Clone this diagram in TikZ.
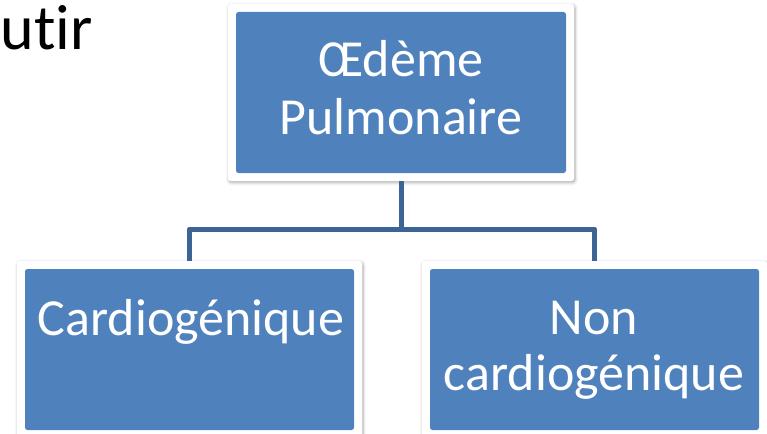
\documentclass[tikz,border=0pt]{standalone}
\usepackage{fontspec}
\setmainfont{Carlito}[Ligatures=NoCommon]
\usetikzlibrary{shadows.blur}
\definecolor{boxblue}{HTML}{4F81BD}
\definecolor{connblue}{HTML}{3C6595}
\tikzset{
  frame/.style={fill=white, rounded corners=2.5pt, inner sep=0pt,
    minimum width=345pt, minimum height=177pt,
    blur shadow={shadow xshift=1pt, shadow yshift=-1.5pt, shadow blur radius=3pt, shadow opacity=35},
    path picture={\fill[boxblue] ([shift={(8pt,-8pt)}]path picture bounding box.north west)
      rectangle ([shift={(-8pt,8pt)}]path picture bounding box.south east);}},
  conn/.style={draw=connblue, line width=5pt, line join=round},
  txt/.style={text=white, inner sep=0pt, anchor=base, font=\fontsize{52}{56}\selectfont},
}
\begin{document}
\begin{tikzpicture}[x=1pt,y=-1pt]
\useasboundingbox (0,0) rectangle (767,433);
\node[inner sep=0pt, anchor=base east, font=\fontsize{64}{70}\selectfont] (title) at (93,50) {utir};
\node[frame, minimum width=346pt] (top) at (401,92.5) {};
\node[frame] (left) at (189.5,349.5) {};
\node[frame] (right) at (594.5,349.5) {};
\coordinate (j) at (401,229);
\draw[conn] (top.south) -- (j);
\draw[conn] (j) -| (left.north);
\draw[conn] (j) -| (right.north);
\node[txt] (t1) at (401,77) {Œdème};
\node[txt] (t2) at (401,134) {Pulmonaire};
\node[txt] (l1) at (191,335) {Cardiogénique};
\node[txt] (r1) at (594,334) {Non};
\node[txt] (r2) at (594,390) {cardiogénique};
\end{tikzpicture}
\end{document}
